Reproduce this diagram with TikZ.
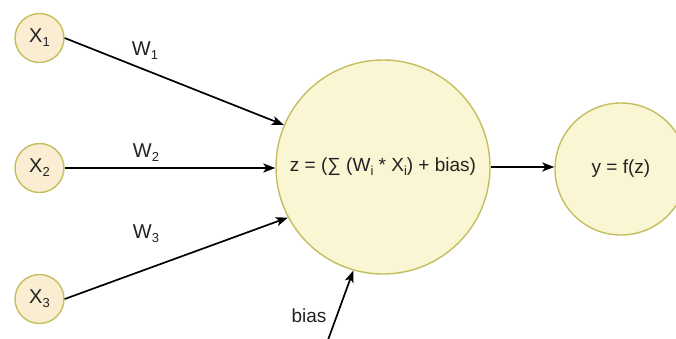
\documentclass[tikz,border=0pt]{standalone}
\usepackage{fontspec}
\setmainfont{Liberation Sans}
\usetikzlibrary{arrows.meta}
\definecolor{nodefill}{HTML}{FAF5D3}
\definecolor{inputfill}{HTML}{FAEDD2}
\definecolor{nodeborder}{HTML}{C4BE5E}
\definecolor{txt}{HTML}{222222}
\newcommand\mysub[1]{\raisebox{-0.4ex}{\fontsize{13}{13}\selectfont #1}}
\tikzset{
  neuron/.style={circle, draw=nodeborder, line width=1.4pt, fill=nodefill, inner sep=0pt, text=txt, font=\fontsize{19}{22}\selectfont},
  inp/.style={neuron, fill=inputfill, minimum size=49pt, font=\fontsize{20}{22}\selectfont},
  arr/.style={-{Stealth[length=12pt,width=9pt,inset=3pt]}, line width=1.7pt, black},
  wlabel/.style={text=txt, font=\fontsize{20}{22}\selectfont, inner sep=0pt}
}
\begin{document}
\begin{tikzpicture}[x=1pt,y=-1pt]
\useasboundingbox (0,0) rectangle (676,338);
\begin{scope}
\clip (0,0) rectangle (676,338);
\node[inp] (x1) at (39.5,38) {X\mysub{1}};
\node[inp] (x2) at (39.5,168) {X\mysub{2}};
\node[inp] (x3) at (39.5,299) {X\mysub{3}};
\node[neuron, minimum size=214pt] (z) at (383,167) {z = (∑ (W\mysub{i} * X\mysub{i}) + bias)};
\node[neuron, minimum size=132pt] (y) at (621,169) {y = f(z)};
\coordinate (b) at (328,340);
\draw[arr] (x1.east) -- (z.157);
\draw[arr] (x2.east) -- (z.west |- x2.east);
\draw[arr] (x3.east) -- (z.208);
\draw[arr] (b) -- (z.254);
\draw[arr] (z.east) -- (y.west |- z.east);
\node[wlabel] (w1) at (145,51) {W\mysub{1}};
\node[wlabel] (w2) at (146,153) {W\mysub{2}};
\node[wlabel] (w3) at (146,234) {W\mysub{3}};
\node[wlabel, font=\fontsize{19}{22}\selectfont] (bl) at (309,316) {bias};
\end{scope}
\end{tikzpicture}
\end{document}
